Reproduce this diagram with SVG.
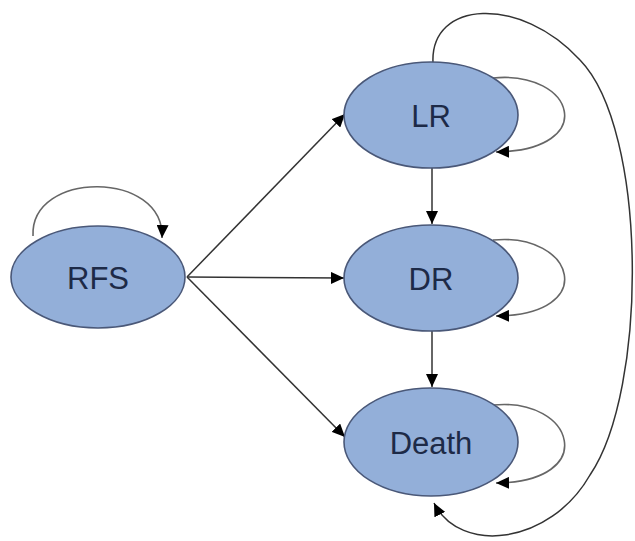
<svg xmlns="http://www.w3.org/2000/svg" width="635" height="541" viewBox="0 0 635 541">
<style>
.node ellipse{fill:#93afd9;stroke:#4a5878;stroke-width:1.6}
.node text{font-family:"Liberation Sans",Arial,sans-serif;font-size:31px;fill:#1d2a47;text-anchor:middle;dominant-baseline:central}
.edge{fill:none;stroke:#333;stroke-width:1.5;marker-end:url(#ah)}
.loop{fill:none;stroke:#666;stroke-width:1.6;marker-end:url(#ah)}
</style>
<defs>
<marker id="ah" markerUnits="userSpaceOnUse" markerWidth="14" markerHeight="12" refX="13" refY="6" orient="auto">
<path d="M0,0 L13,6 L0,12 Z" fill="#000"/>
</marker>
</defs>
<g id="connectors">
<path class="edge" d="M187 277 L345 114"/>
<path class="edge" d="M187 277 L344 278"/>
<path class="edge" d="M187 277 L345 437"/>
<path class="edge" d="M432 168 L432 224"/>
<path class="edge" d="M432 331 L432 387"/>
<path class="loop" d="M33 236 C30 170 165 170 162 238"/>
<path class="loop" d="M493 78 C575 70 600 150 496 152"/>
<path class="loop" d="M493 240 C575 232 600 315 496 316"/>
<path class="loop" d="M493 405 C575 397 600 482 496 483"/>
<path class="edge" d="M433 63 C430 0 520 -5 580 60 C648 130 648 390 590 475 C550 545 460 555 434 503"/>
</g>
<g id="RFS" class="node"><ellipse cx="98" cy="277" rx="87" ry="51"/><text x="98" y="278">RFS</text></g>
<g id="LR" class="node"><ellipse cx="431" cy="115" rx="87" ry="53"/><text x="431" y="116">LR</text></g>
<g id="DR" class="node"><ellipse cx="431" cy="278" rx="87" ry="53"/><text x="431" y="279">DR</text></g>
<g id="Death" class="node"><ellipse cx="431" cy="442" rx="87" ry="54"/><text x="431" y="443">Death</text></g>
</svg>
